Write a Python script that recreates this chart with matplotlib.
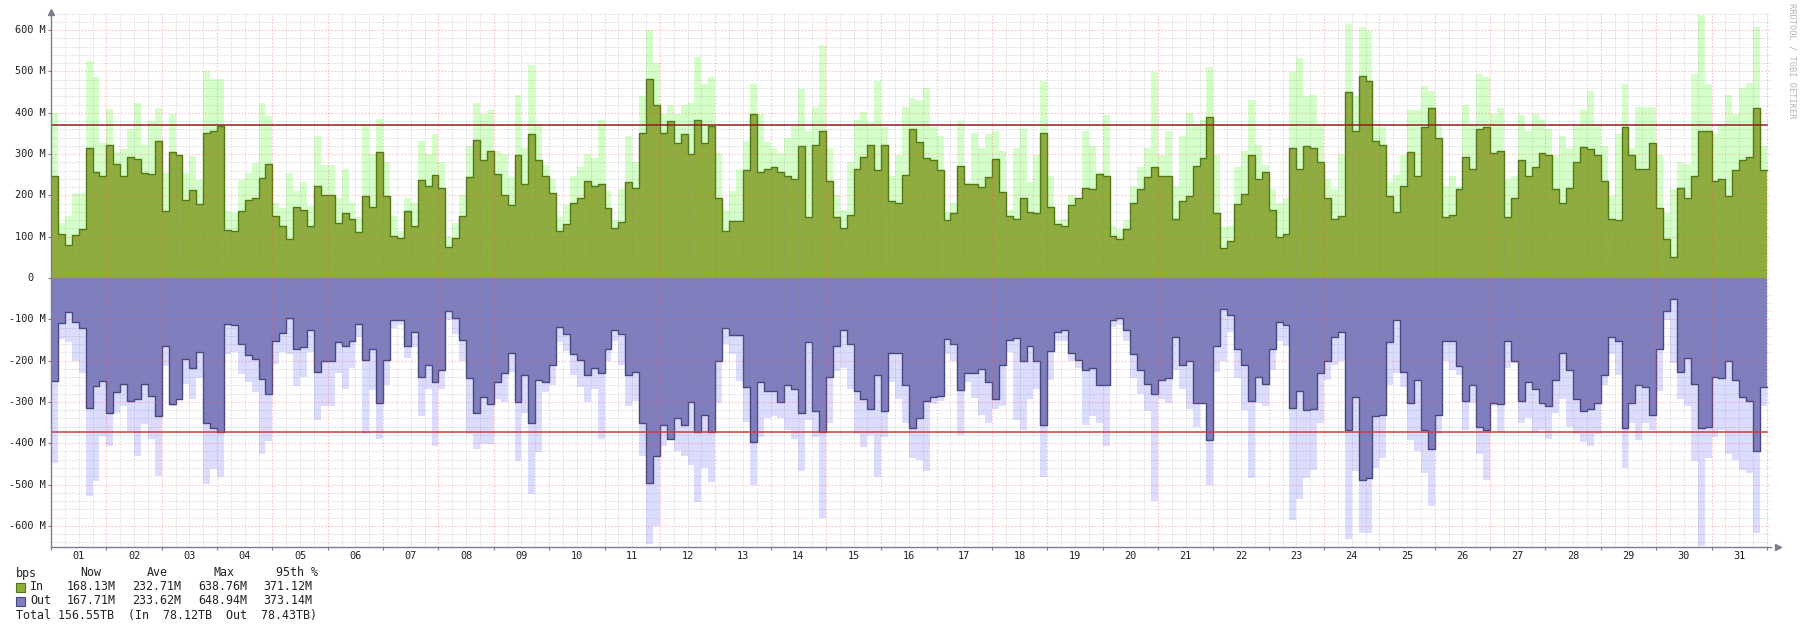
import numpy as np
import matplotlib
matplotlib.use("Agg")
import matplotlib.pyplot as plt
from matplotlib.patches import Rectangle
from matplotlib.transforms import blended_transform_factory

# ---------------- data (Mbit/s, 3-hour steps, 8 per day, 31 days) ----------------
slot_hours = 3
in_avg = [
    248, 107, 79, 104, 119, 314, 257, 247,
    322, 275, 247, 293, 289, 255, 253, 331,
    162, 306, 298, 190, 213, 180, 350, 356,
    368, 117, 113, 163, 188, 194, 241, 277,
    151, 125, 95, 171, 165, 125, 223, 201,
    201, 132, 157, 144, 111, 198, 172, 304,
    198, 102, 98, 163, 127, 238, 223, 250,
    217, 75, 98, 150, 244, 333, 286, 308,
    252, 200, 177, 298, 227, 348, 286, 248,
    207, 115, 130, 182, 194, 234, 222, 227,
    169, 122, 136, 233, 219, 350, 482, 420,
    352, 380, 328, 348, 300, 382, 328, 369,
    194, 115, 138, 138, 261, 398, 257, 265,
    269, 257, 248, 240, 319, 148, 323, 357,
    236, 148, 122, 152, 265, 294, 323, 261,
    323, 186, 182, 250, 361, 330, 290, 286,
    261, 140, 157, 270, 227, 227, 220, 244,
    288, 208, 150, 142, 194, 161, 157, 352,
    173, 130, 127, 177, 194, 219, 215, 252,
    248, 102, 94, 119, 182, 215, 244, 269,
    248, 248, 142, 186, 198, 270, 290, 390,
    157, 73, 90, 180, 203, 298, 240, 257,
    165, 100, 107, 315, 265, 320, 315, 280,
    194, 144, 150, 451, 357, 490, 478, 332,
    323, 198, 160, 223, 305, 248, 365, 411,
    340, 148, 152, 215, 294, 263, 361, 365,
    302, 307, 148, 194, 286, 248, 269, 302,
    298, 215, 182, 219, 282, 317, 313, 298,
    236, 144, 140, 365, 298, 265, 265, 327,
    169, 94, 52, 219, 194, 248, 357, 357,
    236, 240, 198, 261, 286, 292, 411, 261,
]
in_max = [
    400, 132, 150, 206, 206, 525, 487, 327,
    408, 305, 313, 360, 424, 323, 380, 412,
    255, 396, 248, 255, 295, 238, 501, 481,
    481, 162, 158, 238, 255, 279, 424, 392,
    182, 170, 255, 210, 232, 175, 344, 273,
    273, 194, 265, 182, 148, 369, 300, 386,
    282, 150, 115, 194, 182, 332, 300, 348,
    282, 102, 132, 200, 319, 423, 398, 407,
    307, 300, 244, 444, 315, 515, 373, 273,
    240, 148, 177, 248, 269, 300, 290, 382,
    211, 140, 215, 344, 282, 440, 600, 520,
    398, 419, 398, 420, 423, 536, 469, 486,
    302, 165, 211, 265, 332, 470, 398, 330,
    315, 302, 340, 369, 458, 357, 415, 565,
    315, 200, 165, 282, 382, 403, 378, 478,
    365, 248, 298, 415, 436, 430, 461, 365,
    344, 161, 182, 380, 232, 352, 315, 348,
    357, 307, 165, 315, 361, 232, 298, 478,
    248, 140, 144, 200, 186, 357, 319, 257,
    394, 127, 119, 140, 223, 269, 315, 500,
    298, 357, 223, 344, 400, 373, 382, 510,
    298, 123, 127, 269, 307, 430, 323, 273,
    215, 182, 194, 500, 532, 440, 444, 370,
    240, 215, 300, 615, 440, 607, 598, 365,
    365, 232, 250, 298, 407, 407, 465, 453,
    373, 223, 248, 223, 419, 373, 494, 486,
    398, 411, 240, 248, 394, 357, 398, 382,
    361, 298, 344, 315, 369, 407, 453, 373,
    319, 198, 348, 469, 315, 415, 415, 415,
    298, 157, 215, 282, 277, 494, 638, 469,
    348, 373, 444, 398, 461, 473, 607, 319,
]
out_avg = [
    250, 108, 82, 106, 120, 314, 261, 249,
    326, 277, 257, 297, 293, 257, 285, 334,
    164, 306, 293, 197, 217, 180, 352, 362,
    373, 112, 114, 160, 187, 197, 245, 281,
    152, 132, 96, 172, 167, 125, 227, 202,
    202, 156, 164, 152, 112, 198, 172, 302,
    198, 102, 102, 164, 131, 239, 210, 252,
    222, 79, 98, 150, 243, 327, 289, 306,
    252, 230, 181, 300, 235, 352, 247, 252,
    210, 118, 135, 185, 198, 235, 218, 231,
    172, 127, 135, 235, 227, 350, 497, 430,
    356, 389, 339, 356, 300, 372, 331, 372,
    202, 122, 139, 139, 264, 398, 252, 273,
    273, 300, 260, 268, 327, 156, 322, 372,
    239, 164, 127, 160, 273, 293, 318, 235,
    322, 181, 181, 260, 364, 340, 298, 289,
    285, 148, 160, 270, 231, 231, 220, 252,
    293, 210, 150, 145, 202, 164, 202, 356,
    177, 130, 127, 181, 198, 222, 218, 260,
    260, 102, 98, 127, 185, 222, 256, 281,
    247, 243, 143, 210, 202, 302, 302, 393,
    164, 75, 89, 172, 210, 298, 239, 256,
    172, 106, 114, 314, 273, 320, 318, 231,
    202, 143, 131, 368, 289, 489, 485, 335,
    331, 156, 102, 227, 302, 247, 368, 414,
    331, 152, 152, 214, 298, 260, 360, 367,
    302, 306, 152, 202, 298, 252, 268, 302,
    310, 247, 181, 222, 293, 322, 317, 302,
    235, 143, 152, 364, 302, 260, 264, 331,
    172, 81, 52, 227, 193, 256, 364, 360,
    239, 243, 202, 247, 289, 298, 418, 264,
]
out_max = [
    447, 148, 156, 201, 230, 527, 491, 382,
    406, 326, 310, 370, 431, 354, 390, 479,
    213, 310, 285, 257, 293, 241, 499, 463,
    483, 185, 180, 233, 253, 277, 427, 394,
    209, 180, 185, 261, 240, 180, 345, 310,
    310, 231, 268, 218, 143, 377, 270, 389,
    260, 122, 114, 193, 168, 335, 268, 406,
    268, 102, 135, 200, 377, 414, 402, 402,
    293, 300, 227, 443, 327, 522, 422, 277,
    260, 156, 177, 235, 264, 300, 268, 389,
    202, 152, 210, 310, 298, 430, 645, 600,
    406, 389, 418, 430, 452, 543, 460, 493,
    302, 160, 185, 250, 348, 500, 385, 340,
    335, 340, 368, 390, 468, 343, 385, 581,
    352, 225, 218, 268, 377, 410, 380, 481,
    385, 252, 293, 350, 435, 440, 468, 306,
    298, 185, 202, 380, 252, 290, 331, 352,
    318, 310, 180, 343, 368, 293, 268, 481,
    247, 152, 152, 200, 218, 356, 335, 352,
    406, 118, 114, 152, 243, 281, 322, 539,
    293, 302, 222, 268, 318, 360, 306, 500,
    227, 202, 131, 243, 320, 485, 302, 310,
    222, 152, 164, 585, 535, 485, 464, 350,
    247, 210, 202, 631, 468, 618, 618, 460,
    435, 260, 230, 264, 393, 418, 472, 551,
    377, 202, 222, 235, 368, 302, 427, 489,
    310, 372, 218, 206, 352, 339, 372, 368,
    389, 327, 293, 360, 377, 398, 406, 377,
    260, 185, 235, 460, 352, 393, 352, 368,
    273, 102, 206, 293, 310, 443, 649, 435,
    385, 368, 427, 440, 464, 472, 618, 310,
]
pct95_in = 371.12
pct95_out = 373.14

day_labels = ["01", "02", "03", "04", "05", "06", "07", "08", "09", "10",
              "11", "12", "13", "14", "15", "16", "17", "18", "19", "20",
              "21", "22", "23", "24", "25", "26", "27", "28", "29", "30", "31"]
y_tick_values = [-600, -500, -400, -300, -200, -100, 0, 100, 200, 300, 400, 500, 600]
y_tick_labels = ["-600 M", "-500 M", "-400 M", "-300 M", "-200 M", "-100 M", "0",
                 "100 M", "200 M", "300 M", "400 M", "500 M", "600 M"]

legend_header = ["bps", "Now", "Ave", "Max", "95th %"]
legend_in = ["In", "168.13M", "232.71M", "638.76M", "371.12M"]
legend_out = ["Out", "167.71M", "233.62M", "648.94M", "373.14M"]
legend_total = "Total 156.55TB  (In  78.12TB  Out  78.43TB)"

# ---------------- styling ----------------
C_IN_MAX = "#D5FFC8"
C_IN = "#8EAD3E"
C_IN_LINE = "#4F7A12"
C_OUT_MAX = "#DCDCFF"
C_OUT = "#7F7FBF"
C_OUT_LINE = "#474780"
C_P95_IN = "#8E1E1E"
C_P95_OUT = "#D23A3A"
MONO = "DejaVu Sans Mono"

W, H = 1800, 629
fig = plt.figure(figsize=(W / 100, H / 100), dpi=100)
fig.patch.set_facecolor("white")

left_px, ppd = 51, 55.35
xmax = 31.08
zero_px, ppm = 278.0, 0.413
ymax, ymin = 645, -652
top_px = zero_px - ymax * ppm
bot_px = zero_px - ymin * ppm
ax = fig.add_axes([left_px / W, 1 - bot_px / H, ppd * xmax / W, (bot_px - top_px) / H])
ax.set_xlim(0, xmax)
ax.set_ylim(ymin, ymax)
ax.set_facecolor("white")

ia = np.array(in_avg, float)
im = np.maximum(np.array(in_max, float), ia)
oa = np.array(out_avg, float)
om = np.maximum(np.array(out_max, float), oa)
n = len(ia)
edges = np.arange(n + 1) * slot_hours / 24.0


def sv(v):
    return np.append(v, v[-1])


ax.fill_between(edges, 0, sv(im), step="post", color=C_IN_MAX, lw=0, zorder=1)
ax.fill_between(edges, 0, sv(ia), step="post", color=C_IN, lw=0, zorder=2)
ax.step(edges, sv(ia), where="post", color=C_IN_LINE, lw=1.0, zorder=3)
ax.fill_between(edges, 0, -sv(om), step="post", color=C_OUT_MAX, lw=0, zorder=1)
ax.fill_between(edges, 0, -sv(oa), step="post", color=C_OUT, lw=0, zorder=2)
ax.step(edges, -sv(oa), where="post", color=C_OUT_LINE, lw=1.0, zorder=3)

# grid (drawn over the areas, semi-transparent like rrdtool)
grid_top = 642
for k in range(1, int(xmax * 4) + 1):
    t = k / 4.0
    if k % 4:
        ax.plot([t, t], [ymin, grid_top], color="#808080", alpha=0.28, lw=0.7,
                ls=(0, (1.5, 1.5)), zorder=4)
for d in range(1, 32):
    ax.plot([d, d], [ymin, grid_top], color="#FF5050", alpha=0.33, lw=0.8,
            ls=(0, (1.5, 1.5)), zorder=4)
for v in range(-640, 641, 20):
    if v % 100:
        ax.plot([0, xmax - 0.01], [v, v], color="#808080", alpha=0.28, lw=0.7,
                ls=(0, (1.5, 1.5)), zorder=4)
    else:
        ax.plot([0, xmax - 0.01], [v, v], color="#FF5050", alpha=0.33, lw=0.8,
                ls=(0, (1.5, 1.5)), zorder=4)

# 95th percentile lines
ax.plot([0, 31.0], [pct95_in, pct95_in], color=C_P95_IN, lw=1.1, zorder=5)
ax.plot([0, 31.0], [-pct95_out, -pct95_out], color=C_P95_OUT, lw=1.1, zorder=5)

# axes
for s in ("top", "right"):
    ax.spines[s].set_visible(False)
for s in ("left", "bottom"):
    ax.spines[s].set_color("#7C7C8C")
    ax.spines[s].set_linewidth(1.0)
    ax.spines[s].set_zorder(6)
ax.set_xticks(range(0, 32))
ax.set_xticklabels([])
ax.set_yticks(y_tick_values)
ax.set_yticklabels([])
ax.tick_params(axis="both", length=2.5, width=0.8, color="#7C7C8C", direction="out")
ax.plot([0], [1.0], marker="^", ms=4.5, color="#7C7C8C", transform=ax.transAxes,
        clip_on=False, zorder=7)
ax.plot([1.004], [0], marker=">", ms=4.5, color="#7C7C8C", transform=ax.transAxes,
        clip_on=False, zorder=7)

# y tick labels
tr_y = blended_transform_factory(fig.transFigure, ax.transData)
for v, lab in zip(y_tick_values, y_tick_labels):
    xr = 45.5 if lab != "0" else 33
    ax.text(xr / W, v, lab, transform=tr_y, ha="right", va="center",
            family=MONO, fontsize=7.4, color="#222222")

# x tick labels at noon of each day
tr_x = blended_transform_factory(ax.transData, fig.transFigure)
for i, lab in enumerate(day_labels):
    ax.text(i + 0.5, 1 - 556 / H, lab, transform=tr_x, ha="center", va="center",
            family=MONO, fontsize=7.4, color="#222222")

# legend block
def ftext(xpx, ypx, s, **kw):
    fig.text(xpx / W, 1 - ypx / H, s, ha="left", va="center", family=MONO,
             fontsize=8.4, color="#222222", **kw)

hx = [16, 80, 147, 213, 276]
for x, s in zip(hx, legend_header):
    ftext(x, 573, s)
rx = [30, 67, 132, 198, 263]
for x, s in zip(rx, legend_in):
    ftext(x, 587, s)
for x, s in zip(rx, legend_out):
    ftext(x, 601, s)
ftext(16, 615, legend_total)
fig.add_artist(Rectangle((16 / W, 1 - 591.5 / H), 9 / W, 9 / H, transform=fig.transFigure,
                         fc=C_IN, ec=C_IN_LINE, lw=0.8))
fig.add_artist(Rectangle((16 / W, 1 - 605.5 / H), 9 / W, 9 / H, transform=fig.transFigure,
                         fc=C_OUT, ec=C_OUT_LINE, lw=0.8))

# vertical watermark
fig.text(1792 / W, 1 - 61 / H, "RRDTOOL / TOBI OETIKER", rotation=270, ha="center",
         va="center", family=MONO, fontsize=6.2, color="#B4B4B4")

fig.savefig("out.png", dpi=100, facecolor="white")
